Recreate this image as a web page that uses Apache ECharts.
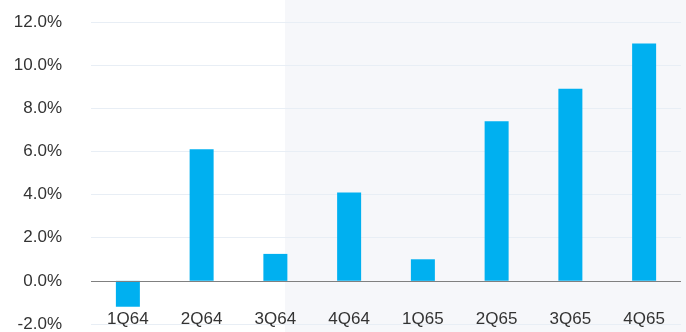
<!DOCTYPE html>
<html><head><meta charset="utf-8">
<script src="https://cdn.jsdelivr.net/npm/echarts@6/dist/echarts.min.js"></script>
<style>html,body{margin:0;padding:0;background:#fff}#c{width:686px;height:332px}</style>
</head><body><div id="c"></div>
<script>
var categories = ['1Q64','2Q64','3Q64','4Q64','1Q65','2Q65','3Q65','4Q65'];
var values = [-1.2, 6.1, 1.25, 4.1, 1.0, 7.4, 8.9, 11.0];
var yTicks = [-2, 0, 2, 4, 6, 8, 10, 12];

var chart = echarts.init(document.getElementById('c'), null, {renderer:'canvas'});
chart.setOption({
  animation:false,
  backgroundColor:'#ffffff',
  graphic:[{type:'rect', z:-10, shape:{x:285, y:0, width:401, height:332}, style:{fill:'#f6f7fa'}}],
  grid:{left:91, right:5, top:22, bottom:8, containLabel:false, outerBoundsMode:'none'},
  xAxis:{type:'category', data:categories,
    axisLine:{show:false, onZero:false},
    axisTick:{show:false},
    axisLabel:{margin:-13, color:'#333', fontFamily:'Liberation Sans', fontSize:17}},
  yAxis:{type:'value', min:yTicks[0], max:yTicks[yTicks.length-1], interval:2,
    axisLine:{show:false}, axisTick:{show:false},
    splitLine:{lineStyle:{color:'#e8eef5', width:1}},
    axisLabel:{margin:29, color:'#333', fontFamily:'Liberation Sans', fontSize:17,
      formatter:function(v){return v.toFixed(1)+'%';}}},
  series:[{type:'bar', data:values, barWidth:24, itemStyle:{color:'#00b0f0'},
    markLine:{silent:true, symbol:'none', label:{show:false},
      lineStyle:{color:'#808080', type:'solid', width:1},
      data:[{yAxis:0}]}}]
});
</script></body></html>
